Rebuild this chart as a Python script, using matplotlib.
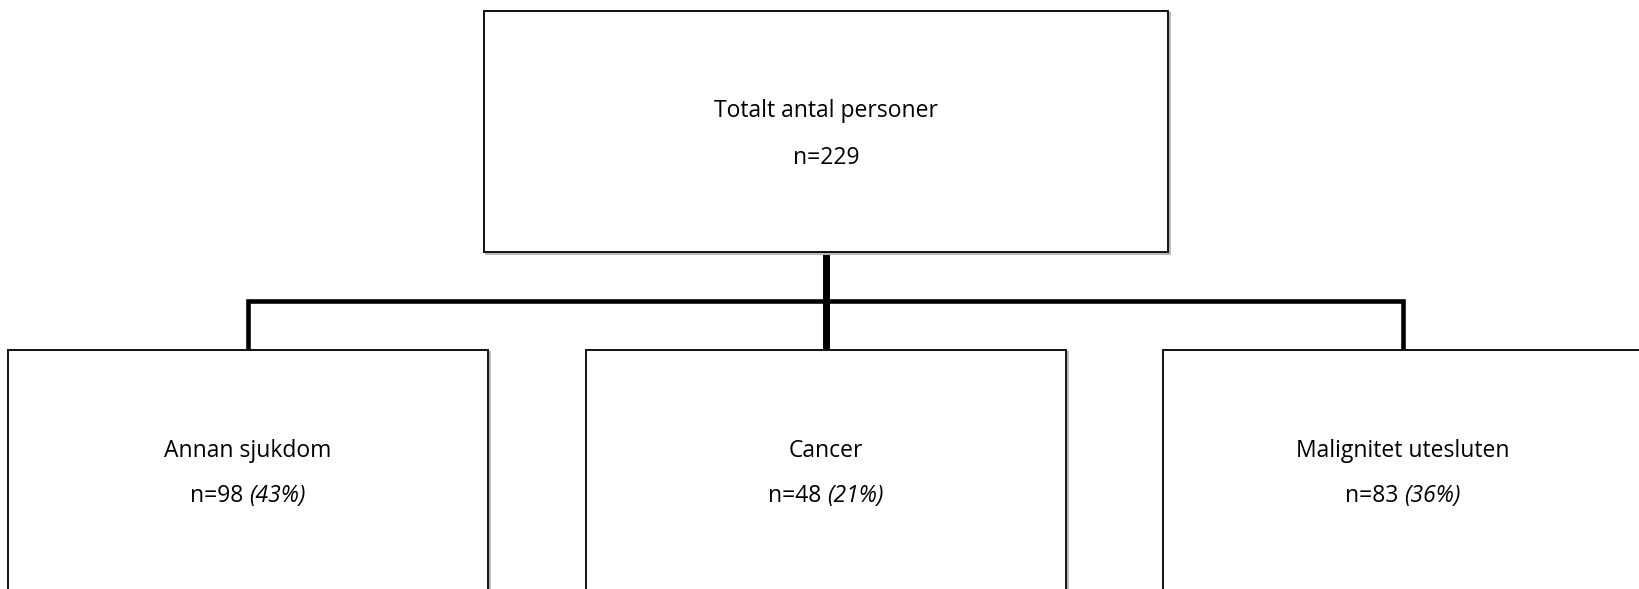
import matplotlib; matplotlib.use('Agg')
import matplotlib.pyplot as plt
from matplotlib.patches import Rectangle

W, H, DPI = 1639, 589, 100
FONT = 'Open Sans'
FS = 16.5

top_label = "Totalt antal personer"
top_n = 229
categories = ["Annan sjukdom", "Cancer", "Malignitet utesluten"]
counts = [98, 48, 83]
percents = [43, 21, 36]

# layout in pixels (y grows downwards)
top_box = (484, 11, 684, 241)
bot_boxes = [(8, 350, 480, 260), (586, 350, 480, 260), (1163, 350, 480, 260)]
drop_x = [248, 826, 1403]
bus_y = 301

fig = plt.figure(figsize=(W / DPI, H / DPI), dpi=DPI)
ax = fig.add_axes([0, 0, 1, 1])
ax.set_xlim(0, W)
ax.set_ylim(H, 0)
ax.axis('off')


def box(x, y, w, h):
    ax.add_patch(Rectangle((x + 2, y + 2), w, h, facecolor='none', edgecolor='#b8b8b8', lw=1.4, zorder=2))
    ax.add_patch(Rectangle((x, y), w, h, facecolor='white', edgecolor='#111111', lw=1.4, zorder=3))


def line2(cx, y_base, normal, italic, renderer):
    t1 = ax.text(0, y_base, normal, fontsize=FS, family=FONT, ha='left', va='baseline', zorder=5)
    t2 = ax.text(0, y_base, italic, fontsize=FS, family=FONT, style='italic', ha='left', va='baseline', zorder=5)
    w1 = t1.get_window_extent(renderer).width
    w2 = t2.get_window_extent(renderer).width
    x0 = cx - (w1 + w2) / 2
    t1.set_x(x0)
    t2.set_x(x0 + w1)


# connectors
ax.plot([drop_x[0], drop_x[0], drop_x[2], drop_x[2]], [bot_boxes[0][1], bus_y, bus_y, bot_boxes[2][1]],
        color='black', lw=3.3, zorder=1, solid_joinstyle='miter', solid_capstyle='butt')
ax.plot([drop_x[1], drop_x[1]], [top_box[1] + top_box[3], bot_boxes[1][1]], color='black', lw=5, zorder=1,
        solid_capstyle='butt')

box(*top_box)
for b in bot_boxes:
    box(*b)

renderer = fig.canvas.get_renderer()
cx_top = top_box[0] + top_box[2] / 2
ax.text(cx_top, 117, top_label, fontsize=FS, family=FONT, ha='center', va='baseline', zorder=5)
ax.text(cx_top, 164, f"n={top_n}", fontsize=FS, family=FONT, ha='center', va='baseline', zorder=5)

for cx, lab, n, p in zip(drop_x, categories, counts, percents):
    ax.text(cx, 457, lab, fontsize=FS, family=FONT, ha='center', va='baseline', zorder=5)
    line2(cx, 502, f"n={n} ", f"({p}%)", renderer)

fig.savefig('out.png', dpi=DPI)
